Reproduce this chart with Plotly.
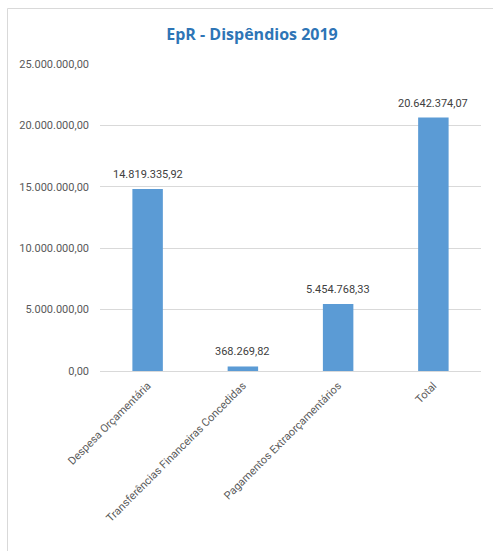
import plotly.graph_objects as go

categorias = ["Despesa Orçamentária", "Transferências Financeiras Concedidas",
              "Pagamentos Extraorçamentários", "Total"]
valores = [14819335.92, 368269.82, 5454768.33, 20642374.07]
tick_vals = [0, 5000000, 10000000, 15000000, 20000000, 25000000]


def br(v):
    s = f"{v:,.2f}"
    return s.replace(",", "X").replace(".", ",").replace("X", ".")


tick_text = [br(v) for v in tick_vals]
rotulos = [br(v) for v in valores]

W, H = 493, 551
L, R, T, B = 100, 12, 64, 180
pw = W - L - R
ph = H - T - B

fig = go.Figure(go.Bar(
    x=categorias, y=valores,
    marker=dict(color="#5B9BD5", line=dict(width=0)),
    cliponaxis=False,
))

# value labels above each bar
for c, v, t in zip(categorias, valores, rotulos):
    fig.add_annotation(x=c, y=v, text=t, showarrow=False, yanchor="bottom",
                       yshift=6, font=dict(family="Roboto", size=11, color="#404040"))

fig.update_layout(
    width=W, height=H,
    margin=dict(l=L, r=R, t=T, b=B, pad=0),
    paper_bgcolor="white", plot_bgcolor="white",
    bargap=0.68,
    showlegend=False,
    title=dict(text="<b>EpR - Dispêndios 2019</b>", x=(252) / W, xanchor="center",
               y=1 - 34 / H, yanchor="middle",
               font=dict(family="Open Sans", size=16, color="#2E75B6")),
    xaxis=dict(tickangle=-45, showline=True, linecolor="#d9d9d9", linewidth=1,
               ticks="", showgrid=False, ticklabelstandoff=3,
               tickfont=dict(family="Roboto", size=11, color="#595959")),
    yaxis=dict(range=[0, 25000000], tickvals=tick_vals, ticktext=tick_text,
               showgrid=True, gridcolor="#d9d9d9", gridwidth=1, zeroline=False,
               showline=False, ticks="", ticklabelstandoff=10,
               tickfont=dict(family="Roboto", size=11, color="#595959")),
    shapes=[
        # chart frame: top and left edges
        dict(type="line", xref="paper", yref="paper",
             x0=(7.5 - L) / pw, x1=(W - L) / pw,
             y0=(H - B - 8.5) / ph, y1=(H - B - 8.5) / ph,
             line=dict(color="#d9d9d9", width=1)),
        dict(type="line", xref="paper", yref="paper",
             x0=(7.5 - L) / pw, x1=(7.5 - L) / pw,
             y0=(H - B - 8.5) / ph, y1=(H - B - H) / ph,
             line=dict(color="#d9d9d9", width=1)),
    ],
)

fig.write_html("out.html")
